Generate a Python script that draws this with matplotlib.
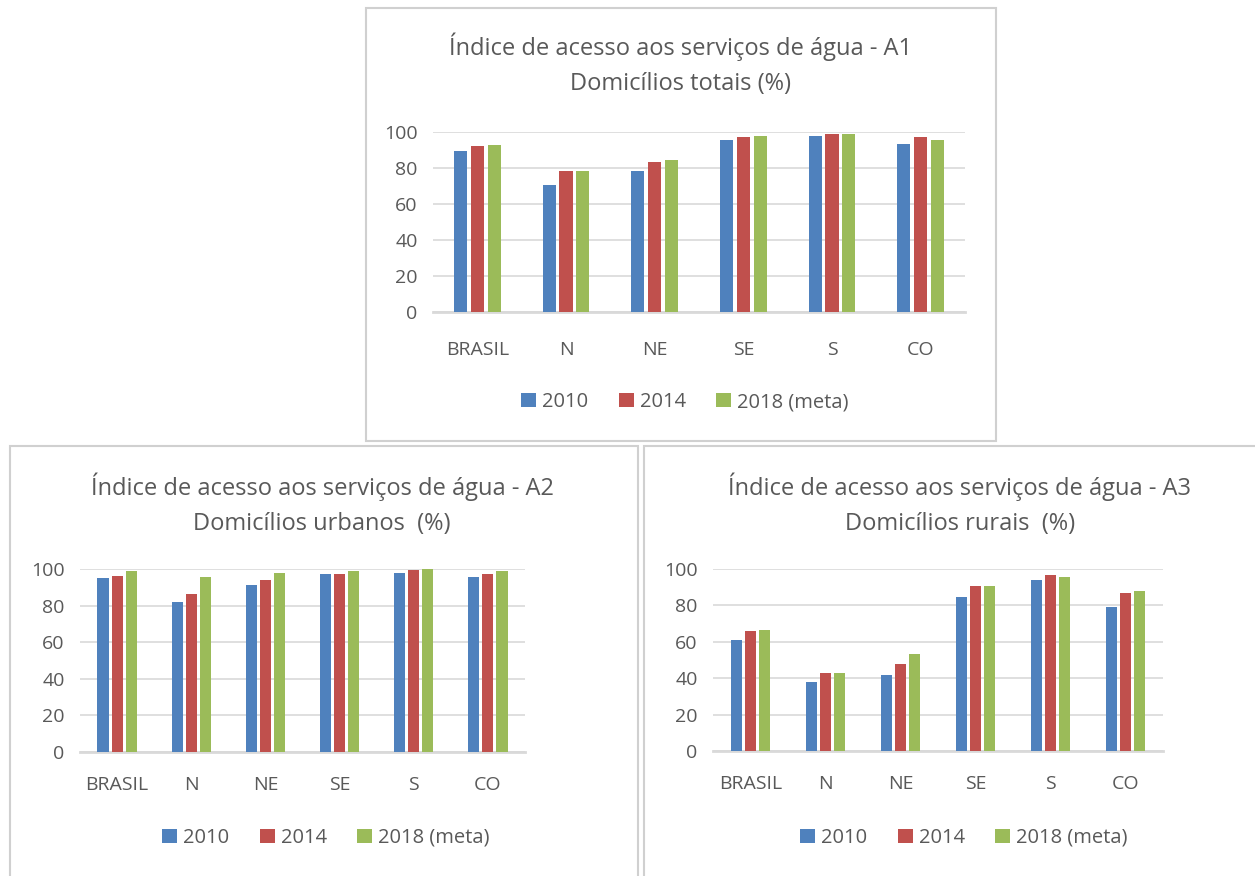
import numpy as np
import matplotlib
matplotlib.use("Agg")
import matplotlib.pyplot as plt
from matplotlib.patches import Rectangle

plt.rcParams['font.family'] = ['Open Sans', 'DejaVu Sans']

regioes = ['BRASIL', 'N', 'NE', 'SE', 'S', 'CO']
anos = ['2010', '2014', '2018 (meta)']
cores = ['#4F81BD', '#C0504D', '#9BBB59']

# A1 - domicilios totais
a1_2010 = [89.4, 70.6, 78.3, 95.6, 97.8, 93.5]
a1_2014 = [92.4, 78.3, 83.1, 97.0, 98.7, 97.0]
a1_2018 = [93.0, 78.3, 84.6, 97.8, 98.7, 95.6]

# A2 - domicilios urbanos
a2_2010 = [94.9, 81.9, 91.0, 97.1, 97.6, 95.6]
a2_2014 = [96.0, 86.1, 93.8, 97.1, 99.3, 97.4]
a2_2018 = [98.7, 95.6, 97.6, 98.7, 99.8, 98.7]

# A3 - domicilios rurais
a3_2010 = [61.0, 37.7, 41.9, 84.8, 93.8, 78.9]
a3_2014 = [66.1, 43.0, 48.0, 90.8, 96.7, 86.6]
a3_2018 = [66.5, 43.0, 53.1, 90.8, 95.6, 87.7]

W, H = 1255, 876
fig = plt.figure(figsize=(W / 100, H / 100), dpi=100)
cinza = '#595959'


def fx(px):
    return px / W


def fy(py):
    return 1 - py / H


def caixa(x0, y0, x1, y1):
    fig.patches.append(Rectangle((fx(x0), fy(y1)), fx(x1 - x0), (y1 - y0) / H,
                                 transform=fig.transFigure, fill=False,
                                 edgecolor='#D0D0D0', linewidth=1.5))


def painel(rect, series, titulo, tx, ty, ly, xpad):
    x0, y0, x1, y1 = rect
    ax = fig.add_axes([fx(x0), fy(y1), fx(x1 - x0), (y1 - y0) / H])
    x = np.arange(len(regioes))
    for i, (vals, cor, ano) in enumerate(zip(series, cores, anos)):
        ax.bar(x + (i - 1) * 0.19, vals, width=0.15, color=cor, label=ano, zorder=3)
    ax.set_xlim(-0.5, len(regioes) - 0.5)
    ax.set_ylim(0, 100)
    ax.set_yticks(range(0, 101, 20))
    ax.set_xticks(x)
    ax.set_xticklabels(regioes)
    ax.grid(axis='y', color='#D9D9D9', linewidth=1.2, zorder=0)
    for s in ['top', 'right', 'left']:
        ax.spines[s].set_visible(False)
    ax.spines['bottom'].set_color('#D9D9D9')
    ax.spines['bottom'].set_linewidth(2)
    ax.tick_params(axis='y', length=0, labelsize=14, colors=cinza, pad=11)
    ax.tick_params(axis='x', length=0, labelsize=14, colors=cinza, pad=xpad)
    fig.text(fx(tx), fy(ty), titulo, ha='center', va='center', fontsize=17,
             color=cinza, linespacing=1.62)
    ax.legend(loc='center', bbox_to_anchor=(fx(tx + 4), fy(ly)),
              bbox_transform=fig.transFigure, ncol=3, frameon=False,
              fontsize=14.5, handlelength=0.75, handleheight=0.75,
              handletextpad=0.3, columnspacing=1.5, labelcolor=cinza)
    return ax


caixa(366, 8, 996, 441)
caixa(10, 446, 638, 878)
caixa(644, 446, 1257, 878)

painel((433, 132, 965, 312), [a1_2010, a1_2014, a1_2018],
       'Índice de acesso aos serviços de água - A1\nDomicílios totais (%)',
       681, 64, 402, 21)
painel((80, 569, 525, 752), [a2_2010, a2_2014, a2_2018],
       'Índice de acesso aos serviços de água - A2\nDomicílios urbanos  (%)',
       322, 504, 838, 17)
painel((713, 569, 1163, 751), [a3_2010, a3_2014, a3_2018],
       'Índice de acesso aos serviços de água - A3\nDomicílios rurais  (%)',
       960, 504, 838, 17)

fig.savefig('out.png', dpi=100)
